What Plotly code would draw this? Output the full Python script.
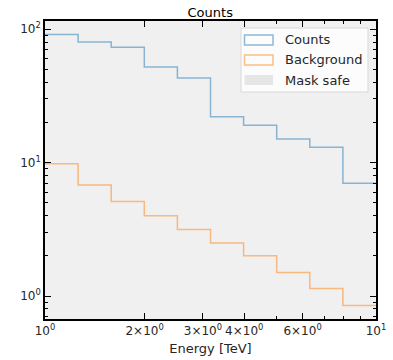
import numpy as np
import plotly.graph_objects as go

# Data
energy_edges = [10 ** (i / 10) for i in range(11)]  # TeV, 10 log-spaced bins 1..10
counts = [91, 80, 73, 52, 43, 22, 19, 15, 13, 7]
background = [9.8, 6.8, 5.1, 4.0, 3.15, 2.5, 2.0, 1.5, 1.14, 0.85]
mask_safe = [True] * 10
y_range = [0.673, 115]

x_tick_vals = [1, 2, 3, 4, 6, 10]
x_tick_text = ["10<sup>0</sup>", "2×10<sup>0</sup>", "3×10<sup>0</sup>",
               "4×10<sup>0</sup>", "6×10<sup>0</sup>", "10<sup>1</sup>"]
x_minor = [5, 7, 8, 9]
y_tick_vals = [1, 10, 100]
y_tick_text = ["10<sup>0</sup>", "10<sup>1</sup>", "10<sup>2</sup>"]
y_minor = [0.7, 0.8, 0.9] + list(range(2, 10)) + list(range(20, 100, 10))

legend_names = ["Counts", "Background", "Mask safe"]

C_COUNTS = "rgba(31,119,180,0.5)"
C_BKG = "rgba(255,127,14,0.5)"
C_MASK = "#f0f0f0"

W, H = 393, 360
ML, MR, MT, MB = 45, 17, 21, 41
PW, PH = W - ML - MR, H - MT - MB


def px(x):
    return (x - ML) / PW


def py(y):
    return 1 - (y - MT) / PH


def step(vals):
    return list(vals) + [vals[-1]]


fig = go.Figure()

# mask safe region
mx = [e for i, e in enumerate(energy_edges[:-1]) if mask_safe[i]] + [energy_edges[-1]]
fig.add_trace(go.Scatter(x=mx, y=[y_range[0]] * len(mx), mode="lines",
                         line=dict(width=0), line_shape="hv", showlegend=False,
                         hoverinfo="skip"))
fig.add_trace(go.Scatter(x=mx, y=[y_range[1]] * len(mx), mode="lines",
                         line=dict(width=0), line_shape="hv", fill="tonexty",
                         fillcolor=C_MASK, showlegend=False, hoverinfo="skip"))

fig.add_trace(go.Scatter(x=energy_edges, y=step(counts), mode="lines",
                         line=dict(color=C_COUNTS, width=1.5, shape="hv"),
                         showlegend=False, name="Counts"))
fig.add_trace(go.Scatter(x=energy_edges, y=step(background), mode="lines",
                         line=dict(color=C_BKG, width=1.5, shape="hv"),
                         showlegend=False, name="Background"))

# custom legend (matplotlib-like patches)
shapes = [dict(type="rect", xref="paper", yref="paper",
               x0=px(241), x1=px(368), y0=py(92), y1=py(28),
               fillcolor="rgba(255,255,255,0.8)", line=dict(color="#d8d8d8", width=1),
               layer="above")]
patch_styles = [
    dict(fillcolor="rgba(0,0,0,0)", line=dict(color=C_COUNTS, width=1.5)),
    dict(fillcolor="rgba(0,0,0,0)", line=dict(color=C_BKG, width=1.5)),
    dict(fillcolor="#e6e6e6", line=dict(width=0)),
]
annotations = []
for i, (name, st) in enumerate(zip(legend_names, patch_styles)):
    cy = 40 + 20 * i
    shapes.append(dict(type="rect", xref="paper", yref="paper",
                       x0=px(244.5), x1=px(273), y0=py(cy + 5), y1=py(cy - 5),
                       layer="above", **st))
    annotations.append(dict(text=name, xref="paper", yref="paper", x=px(283), y=py(cy),
                            xanchor="left", yanchor="middle", showarrow=False,
                            font=dict(family="DejaVu Sans", size=13, color="#262626")))

font = dict(family="DejaVu Sans", size=12, color="#262626")
axis_common = dict(type="log", showgrid=False, zeroline=False, showline=True,
                   linecolor="black", linewidth=1.5, mirror="allticks",
                   ticks="inside", ticklen=6, tickwidth=1, tickcolor="black",
                   tickfont=font, tickangle=0, automargin=False)

fig.update_xaxes(**axis_common, range=[0, 1], tickvals=x_tick_vals, ticktext=x_tick_text,
                 minor=dict(tickvals=x_minor, ticks="inside", ticklen=3, tickcolor="black"),
                 ticklabeloverflow="allow",
                 title=dict(text="Energy [TeV]",
                            font=dict(family="DejaVu Sans", size=13, color="#262626"),
                            standoff=7))
fig.update_yaxes(**axis_common, range=[np.log10(y_range[0]), np.log10(y_range[1])],
                 tickvals=y_tick_vals, ticktext=y_tick_text,
                 minor=dict(tickvals=y_minor, ticks="inside", ticklen=3, tickcolor="black"))

fig.update_layout(
    width=W, height=H,
    margin=dict(l=ML, r=MR, t=MT, b=MB),
    plot_bgcolor="white", paper_bgcolor="white",
    title=dict(text="Counts", x=0.535, xanchor="center", y=0.978, yanchor="top",
               font=dict(family="DejaVu Sans", size=13, color="black")),
    showlegend=False,
    shapes=shapes,
    annotations=annotations,
)

fig.write_html("out.html")
